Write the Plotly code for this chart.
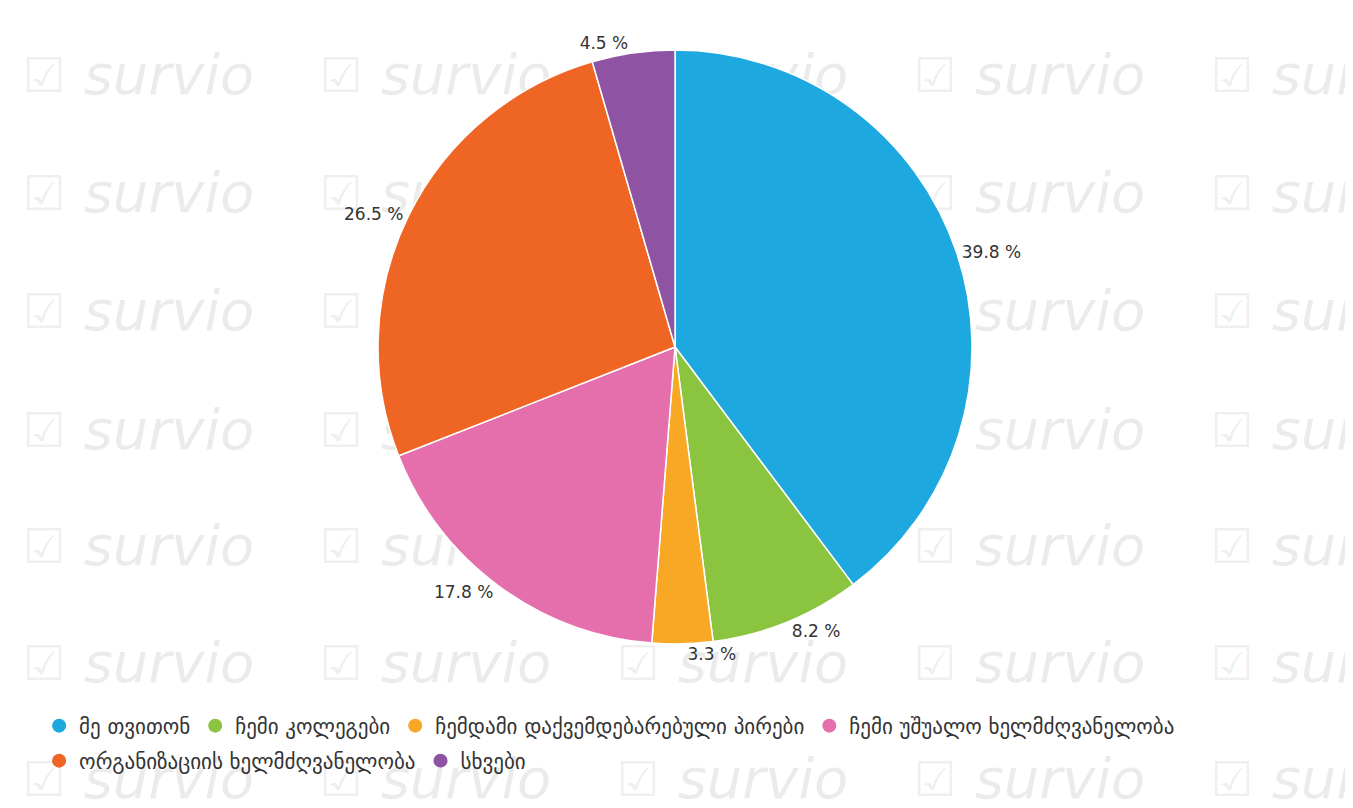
import plotly.graph_objects as go

# მონაცემები
categories = [
    "მე თვითონ",
    "ჩემი კოლეგები",
    "ჩემდამი დაქვემდებარებული პირები",
    "ჩემი უშუალო ხელმძღვანელობა",
    "ორგანიზაციის ხელმძღვანელობა",
    "სხვები",
]
percentages = [39.8, 8.2, 3.3, 17.8, 26.5, 4.5]
colors = ["#1ea8e0", "#8bc540", "#f9a826", "#e56fad", "#ee6524", "#8e54a3"]
legend_rows = ["legend", "legend", "legend", "legend", "legend2", "legend2"]

# watermark tiles (background "survio" logo grid)
wm_cols = [6, 303, 600, 897, 1194]
wm_rows = [72, 190, 308, 427, 543, 660, 776]

W, H = 1353, 808

fig = go.Figure()

# watermark drawn on hidden cartesian axes so the pie sits on top of it
wm_x = [c for r in wm_rows for c in wm_cols]
wm_y = [r for r in wm_rows for c in wm_cols]
fig.add_trace(go.Scatter(
    x=[v + 30 for v in wm_x], y=wm_y, mode="text",
    text=["☑"] * len(wm_x),
    textfont=dict(size=48, color="rgba(0,0,0,0.08)", family="DejaVu Sans"),
    showlegend=False, hoverinfo="skip", cliponaxis=False,
))
fig.add_trace(go.Scatter(
    x=[v + 155 for v in wm_x], y=wm_y, mode="text",
    text=["<i>survio</i>"] * len(wm_x),
    textfont=dict(size=56, color="rgba(0,0,0,0.08)", family="DejaVu Sans"),
    showlegend=False, hoverinfo="skip", cliponaxis=False,
))

fig.add_trace(go.Pie(
    labels=categories,
    values=percentages,
    sort=False,
    direction="clockwise",
    rotation=0,
    marker=dict(colors=colors, line=dict(color="white", width=1.5)),
    texttemplate="%{value:.1f} %",
    textposition="outside",
    textfont=dict(size=17, color="#333333"),
    hoverinfo="label+percent",
    showlegend=False,
    domain=dict(x=[0, 0.986], y=[1 - 636 / H, 1 - 42 / H]),
))

# legend entries with round markers, split over two rows like the original
for name, col, lg in zip(categories, colors, legend_rows):
    fig.add_trace(go.Scatter(
        x=[None], y=[None], mode="markers", name=name,
        marker=dict(color=col, size=14, symbol="circle"),
        legend=lg, hoverinfo="skip",
    ))

legend_style = dict(
    orientation="h",
    xref="container", yref="container",
    x=0.023, xanchor="left",
    yanchor="middle",
    font=dict(size=21, color="#333333"),
    itemwidth=30,
    bgcolor="rgba(0,0,0,0)",
)

fig.update_layout(
    width=W,
    height=H,
    paper_bgcolor="white",
    plot_bgcolor="white",
    font=dict(family="DejaVu Sans", color="#333333"),
    margin=dict(l=0, r=0, t=0, b=0, autoexpand=False),
    xaxis=dict(visible=False, range=[0, W], fixedrange=True),
    yaxis=dict(visible=False, range=[H, 0], fixedrange=True),
    legend=dict(legend_style, y=1 - 718 / H),
    legend2=dict(legend_style, y=1 - 753 / H),
)

fig.write_html("out.html")
